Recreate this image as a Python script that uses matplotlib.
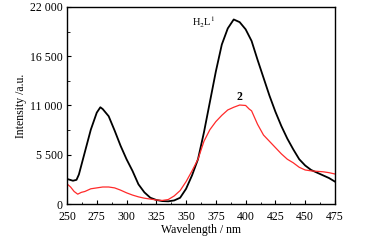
import matplotlib
matplotlib.use("Agg")
import matplotlib.pyplot as plt
from matplotlib.ticker import MultipleLocator, FuncFormatter

# ==========================================
# Data
# ==========================================
wl_black = [250, 255, 258, 260, 265, 270, 275, 278, 280, 285, 290, 295, 300, 305,
            310, 315, 320, 325, 330, 335, 340, 345, 350, 355, 360, 365, 370, 375,
            380, 385, 390, 395, 400, 405, 410, 415, 420, 425, 430, 435, 440, 445,
            450, 455, 460, 465, 470, 475]
int_black = [2800, 2600, 2700, 3300, 5800, 8300, 10200, 10800, 10600, 9800, 8200,
             6500, 5000, 3700, 2200, 1300, 700, 450, 330, 300, 400, 700, 1700, 3200,
             5000, 8000, 11400, 14800, 17800, 19600, 20600, 20300, 19500, 18200,
             16100, 14100, 12100, 10300, 8700, 7300, 6100, 5000, 4300, 3800, 3500,
             3200, 2900, 2500]

wl_red = [250, 253, 256, 259, 262, 265, 270, 275, 280, 285, 290, 295, 300, 305,
          310, 315, 320, 325, 330, 335, 340, 345, 350, 355, 360, 365, 370, 375,
          380, 385, 390, 395, 400, 403, 405, 410, 415, 420, 425, 430, 435, 440,
          445, 450, 455, 460, 465, 470, 475]
int_red = [2250, 1900, 1400, 1100, 1300, 1400, 1700, 1800, 1900, 1900, 1800, 1550,
           1250, 1000, 800, 650, 550, 450, 400, 500, 900, 1500, 2500, 3700, 5000,
           7000, 8300, 9200, 9900, 10500, 10800, 11050, 11000, 10600, 10400, 8900,
           7700, 7000, 6300, 5600, 5000, 4600, 4100, 3800, 3700, 3650, 3600, 3500,
           3350]

x_ticks = [250, 275, 300, 325, 350, 375, 400, 425, 450, 475]
y_ticks = [0, 5500, 11000, 16500, 22000]

# ==========================================
# Plot
# ==========================================
plt.rcParams['font.family'] = ['Liberation Serif', 'DejaVu Serif']
plt.rcParams['mathtext.fontset'] = 'stix'

fig = plt.figure(figsize=(3.85, 2.47), dpi=100)
ax = fig.add_axes([0.174, 0.174, 0.696, 0.798])

ax.plot(wl_black, int_black, color='black', lw=1.3)
ax.plot(wl_red, int_red, color='#ff2a2a', lw=0.9)

ax.set_xlim(250, 475)
ax.set_ylim(0, 22000)
ax.set_xticks(x_ticks)
ax.set_yticks(y_ticks)
ax.xaxis.set_minor_locator(MultipleLocator(12.5))
ax.yaxis.set_minor_locator(MultipleLocator(2750))
ax.yaxis.set_major_formatter(FuncFormatter(
    lambda v, p: "{:,}".format(int(v)).replace(",", " ")))

ax.tick_params(which='both', direction='in', labelsize=8.5)
ax.tick_params(axis='x', pad=5)
ax.tick_params(axis='y', pad=3)
ax.tick_params(which='major', length=3, width=0.8)
ax.tick_params(which='minor', length=1.8, width=0.6)
for s in ax.spines.values():
    s.set_linewidth(1.0)

ax.set_xlabel("Wavelength / nm", fontsize=8.5, labelpad=1)
ax.set_ylabel("Intensity /a.u.", fontsize=8.5, labelpad=2)

ax.text(365, 20300, r"H$_2$L$^1$", fontsize=7.5, ha='center', va='center')
ax.text(395, 12000, "2", fontsize=8.5, fontweight='bold', ha='center', va='center')

fig.savefig("out.png", dpi=100)
